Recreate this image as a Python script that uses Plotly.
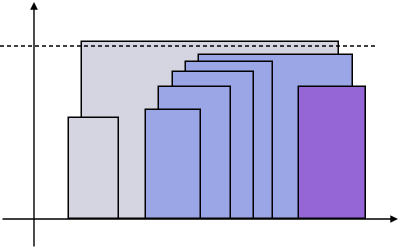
import plotly.graph_objects as go

# Bars (drawn back to front)
bar_names = ["big gray", "small gray", "E", "D", "C", "B", "A", "purple"]
bar_left = [4.8, 3.5, 16.5, 15.2, 13.9, 12.5, 11.2, 26.5]
bar_width = [25.7, 5.0, 15.4, 8.7, 8.1, 7.2, 5.5, 6.7]
bar_height = [17.75, 10.15, 16.45, 15.75, 14.75, 13.25, 10.95, 13.25]
bar_colors = ["#d5d5e2", "#d5d5e2", "#9ba6e6", "#9ba6e6", "#9ba6e6",
              "#9ba6e6", "#9ba6e6", "#9567d6"]

dashed_level = 17.3

x_min, x_max = -3.4, 36.6
y_min, y_max = -3.0, 21.9

fig = go.Figure()
fig.add_trace(go.Bar(
    x=bar_left, y=bar_height, width=bar_width, offset=0, base=0,
    marker=dict(color=bar_colors, line=dict(color="black", width=1.5)),
    showlegend=False, hoverinfo="skip",
))

# dashed horizontal line
fig.add_trace(go.Scatter(
    x=[-3.4, 34.3], y=[dashed_level, dashed_level], mode="lines",
    line=dict(color="black", width=1.3, dash="4px,3px"),
    showlegend=False, hoverinfo="skip",
))

# axes with arrows
fig.add_annotation(x=36.4, y=0, ax=-3.3, ay=0, xref="x", yref="y",
                   axref="x", ayref="y", text="", showarrow=True,
                   arrowhead=2, arrowsize=1.1, arrowwidth=1.4, arrowcolor="black")
fig.add_annotation(x=0, y=21.7, ax=0, ay=-2.9, xref="x", yref="y",
                   axref="x", ayref="y", text="", showarrow=True,
                   arrowhead=2, arrowsize=1.1, arrowwidth=1.4, arrowcolor="black")

fig.update_layout(
    width=400, height=249, margin=dict(l=0, r=0, t=0, b=0),
    paper_bgcolor="white", plot_bgcolor="white",
    barmode="overlay", bargap=0,
    xaxis=dict(range=[x_min, x_max], visible=False, fixedrange=True),
    yaxis=dict(range=[y_min, y_max], visible=False, fixedrange=True),
)

fig.write_html("out.html")
